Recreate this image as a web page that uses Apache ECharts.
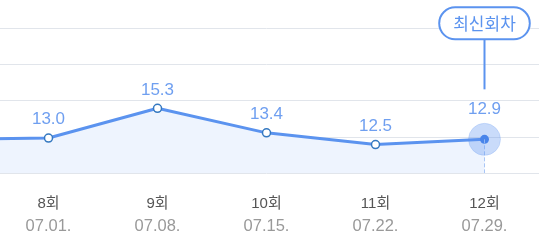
<!DOCTYPE html>
<html><head><meta charset="utf-8">
<script src="https://cdn.jsdelivr.net/npm/echarts@6/dist/echarts.min.js"></script>
<style>html,body{margin:0;padding:0;background:#fff;overflow:hidden}#c{width:561px;height:251px;margin-left:-6px}</style>
</head><body><div id="c"></div>
<script>
const rounds = ['7회', '8회', '9회', '10회', '11회', '12회'];
const dates = ['06.24.', '07.01.', '07.08.', '07.15.', '07.22.', '07.29.'];
const values = [12.9, 13.0, 15.3, 13.4, 12.5, 12.9];
const latestLabel = '최신회차';
const yMin = 10.3, yMax = 21.5, yStep = 2.8;

const blue = '#5b93ef';
const lastIdx = values.length - 1;
const cats = rounds.map((r, i) => r + '\n' + dates[i]);
const chart = echarts.init(document.getElementById('c'), null, {renderer: 'canvas'});
const font = 'Arial, "Liberation Sans", "Noto Sans CJK KR", sans-serif';
chart.setOption({
  animation: false,
  grid: {left: 0, right: 16, top: 28, bottom: 78, containLabel: false},
  dataZoom: [{type: 'inside', xAxisIndex: 0, startValue: 1, endValue: lastIdx, filterMode: 'none',
    zoomLock: true, disabled: true}],
  xAxis: {
    type: 'category', data: cats, boundaryGap: true,
    axisLine: {show: false}, axisTick: {show: false},
    axisLabel: {
      margin: 19, interval: 0,
      formatter: v => { const p = v.split('\n'); return '{a|' + p[0] + '}\n{b|' + p[1] + '}'; },
      rich: {
        a: {fontSize: 15, color: '#555', fontFamily: font, lineHeight: 23},
        b: {fontSize: 16.5, color: '#999', fontFamily: font, lineHeight: 23}
      }
    }
  },
  yAxis: {
    type: 'value', min: yMin, max: yMax, interval: yStep,
    axisLabel: {show: false}, axisLine: {show: false}, axisTick: {show: false},
    splitLine: {lineStyle: {color: '#e1e5eb', width: 1}}
  },
  series: [{
    type: 'line', data: values.map((v, i) => i === lastIdx ? {
      value: v, symbol: 'circle', symbolSize: 9,
      itemStyle: {color: '#3f7ee8', borderColor: '#3f7ee8', borderWidth: 0},
      label: {distance: 17}
    } : v),
    symbol: 'circle', symbolSize: 8,
    lineStyle: {color: blue, width: 3},
    itemStyle: {color: '#fff', borderColor: '#3478c0', borderWidth: 1.5},
    areaStyle: {color: '#eef4fe', opacity: 1},
    label: {show: true, position: 'top', distance: 5, fontSize: 17, color: '#6f9ff0', fontFamily: font,
      formatter: p => Number(p.value).toFixed(1)},
    z: 3,
    markLine: {
      silent: true, symbol: 'none', label: {show: false},
      lineStyle: {color: '#a9c6f6', type: 'dashed', width: 1},
      data: [[{coord: [lastIdx, values[lastIdx]]}, {coord: [lastIdx, yMin]}]]
    },
    markPoint: {
      silent: true,
      data: [
        {coord: [lastIdx, values[lastIdx]], symbol: 'circle', symbolSize: 32,
          itemStyle: {color: 'rgba(91,147,239,0.33)', borderColor: 'rgba(91,147,239,0.2)', borderWidth: 1},
          label: {show: false}},
        {coord: [lastIdx, values[lastIdx]], symbol: 'rect', symbolSize: [2, 50], symbolOffset: [0, -75],
          itemStyle: {color: blue}, label: {show: false}},
        {coord: [lastIdx, values[lastIdx]], symbol: 'rect', symbolSize: 1, symbolOffset: [0, -116],
          itemStyle: {color: 'rgba(0,0,0,0)'},
          label: {show: true, position: 'inside', formatter: latestLabel, fontSize: 17, color: blue,
            fontFamily: '"Noto Sans CJK KR", sans-serif', lineHeight: 17,
            backgroundColor: '#fff', borderColor: blue, borderWidth: 2, borderRadius: 16, padding: [6.5, 13]}}
      ]
    }
  }]
});
</script></body></html>
